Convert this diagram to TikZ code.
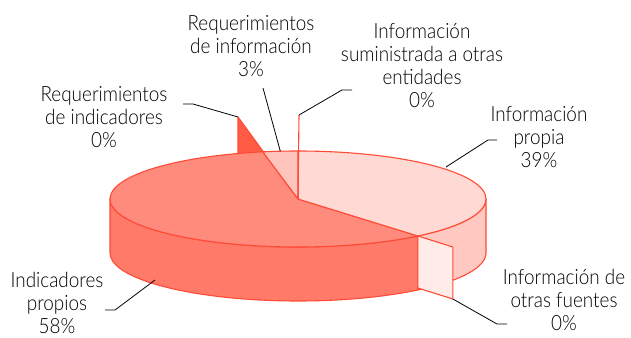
\documentclass[tikz,border=0pt]{standalone}
\usepackage{fontspec}
\setmainfont{Lato Light}[FakeStretch=0.9]
\usetikzlibrary{calc}
\definecolor{pieedge}{HTML}{FF4B36}
\definecolor{topbig}{HTML}{FF8B7D}
\definecolor{sidebig}{HTML}{FF7A69}
\definecolor{topprop}{HTML}{FFDAD4}
\definecolor{sideprop}{HTML}{FFC8C0}
\definecolor{topreq}{HTML}{FFC4BC}
\definecolor{wallreq}{HTML}{FF5B45}
\definecolor{wallotras}{HTML}{FFEBE8}
\begin{document}
\begin{tikzpicture}[x=1pt,y=-1pt,
  slice/.style={draw=pieedge,line width=1.1pt,line join=round},
  leader/.style={draw=black,line width=0.8pt},
  lbl/.style={align=center,inner sep=0pt,font=\fontsize{21}{23}\selectfont}]
\useasboundingbox (0,0) rectangle (631,337);
\coordinate (c) at (298,199);
\coordinate (w1) at (238,117);
\coordinate (w2) at (238,171);
\coordinate (w3) at (273,219);
\coordinate (w4) at (273,165);
\draw[slice,fill=wallreq] (w1) -- (w2) -- (w3) -- (w4) -- cycle;
\draw[slice,fill=sidebig] (c) ++(180:188pt and 48pt) arc[start angle=180,end angle=309.6,x radius=188pt,y radius=48pt]
  -- ++(0,54) arc[start angle=309.6,end angle=180,x radius=188pt,y radius=48pt] -- cycle;
\draw[slice,fill=sideprop] (c) ++(309.6:188pt and 48pt) arc[start angle=309.6,end angle=360,x radius=188pt,y radius=48pt]
  -- ++(0,54) arc[start angle=360,end angle=309.6,x radius=188pt,y radius=48pt] -- cycle;
\draw[slice,fill=topbig] (c) -- ++(100.8:188pt and 48pt) arc[start angle=100.8,end angle=309.6,x radius=188pt,y radius=48pt] -- cycle;
\draw[slice,fill=topprop] (c) -- ++(-50.4:188pt and 48pt) arc[start angle=-50.4,end angle=90,x radius=188pt,y radius=48pt] -- cycle;
\draw[slice,fill=topreq] (c) -- ++(90:188pt and 48pt) arc[start angle=90,end angle=100.8,x radius=188pt,y radius=48pt] -- cycle;
\coordinate (sumtop) at (299,115);
\draw[slice] (sumtop) -- (c);
\path (c) ++(-50.4:188pt and 48pt) coordinate (q1) ++(35,11) coordinate (q2) ++(0,52) coordinate (q3) ++(-35,-11) coordinate (q4);
\draw[slice,fill=wallotras] (q1) -- (q2) -- (q3) -- (q4) -- cycle;
\coordinate (m3) at ($(c)+(95.4:188pt and 48pt)$);
\node[lbl] (reqind) at (104,117) {Requerimientos\\de indicadores\\0\%};
\node[lbl] (reqinf) at (251,46) {Requerimientos\\de información\\3\%};
\node[lbl] (sum) at (422,66) {Información\\suministrada a otras\\entidades\\0\%};
\node[lbl] (prop) at (539,137) {Información\\propia\\39\%};
\node[lbl] (otras) at (564,300) {Información de\\otras fuentes\\0\%};
\node[lbl] (indp) at (57,303) {Indicadores\\propios\\58\%};
\coordinate (t1) at (183,104);
\coordinate (t2) at (263,88);
\coordinate (t3) at (352,90);
\coordinate (t4) at (497,140);
\coordinate (t5) at (507,324);
\coordinate (t6) at (105,310);
\draw[leader] (t1) -- ++(10,0) -- (w1);
\draw[leader] (t2) -- (m3);
\draw[leader] (t3) -- ++(-10,0) -- (sumtop);
\draw[leader] (t4) -- ++(-9,0) -- (446,167);
\draw[leader] (t5) -- ++(-10,0) -- (q3);
\draw[leader] (t6) -- ++(10,0) -- (155,280);
\end{tikzpicture}
\end{document}
